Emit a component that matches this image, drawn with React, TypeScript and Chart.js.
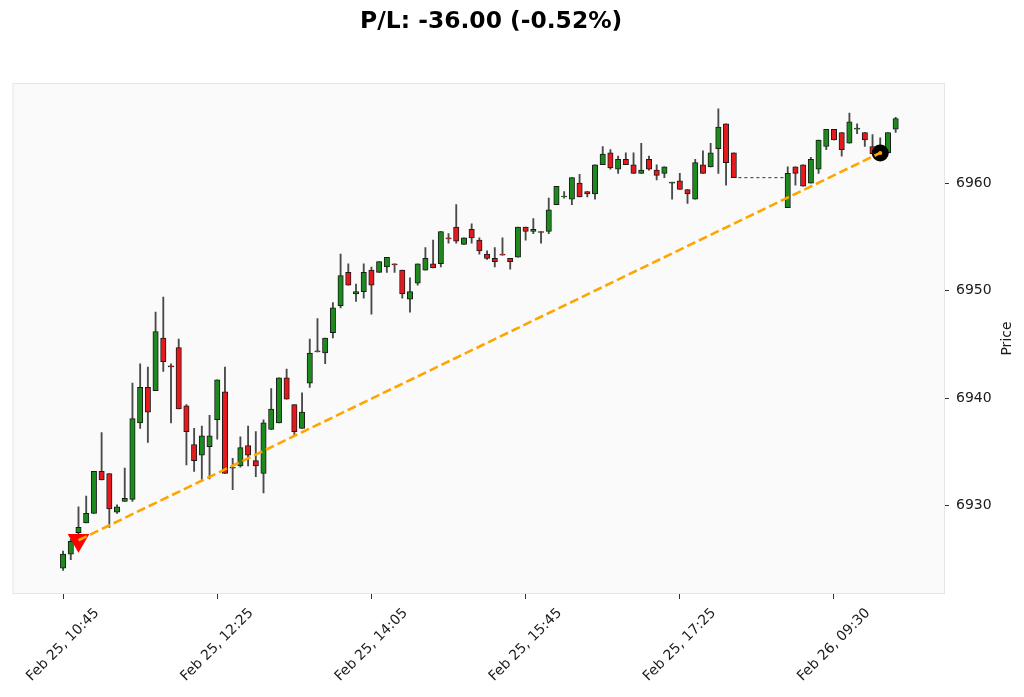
import React, { useEffect, useRef } from 'react';
import { Chart, registerables } from 'chart.js';

Chart.register(...registerables);

// ---- Data (5-minute candles, index = bar number) ----
const opens: (number | null)[] = [
  6924.2, 6925.5, 6927.5, 6928.4, 6929.3, 6933.2, 6933.0, 6929.4, 6930.4, 6930.6,
  6937.7, 6941.0, 6940.7, 6945.6, 6943.0, 6944.7, 6939.3, 6935.7, 6934.7, 6935.5,
  6938.0, 6940.6, 6933.5, 6933.7, 6935.6, 6934.2, 6933.0, 6937.1, 6937.7, 6941.9,
  6939.4, 6937.2, 6941.4, 6944.3, 6944.2, 6946.1, 6948.6, 6951.7, 6949.7, 6949.9,
  6951.9, 6951.7, 6952.2, 6952.5, 6951.9, 6949.2, 6950.7, 6951.9, 6952.5, 6952.5,
  6954.9, 6955.9, 6954.3, 6955.7, 6954.7, 6953.4, 6953.0, 6953.4, 6953.0, 6953.1,
  6955.9, 6955.5, 6955.5, 6955.5, 6958.0, 6958.7, 6958.5, 6960.0, 6959.2, 6959.0,
  6961.7, 6962.8, 6961.3, 6962.2, 6961.7, 6960.9, 6962.2, 6961.2, 6960.9, 6960.0,
  6960.2, 6959.4, 6958.5, 6961.7, 6961.5, 6963.2, 6965.5, 6962.8, null, null,
  null, null, null, null, 6957.7, 6961.5, 6961.7, 6960.0, 6961.3, 6963.4,
  6965.0, 6964.7, 6963.7, 6965.0, 6964.7, 6963.4, 6963.2, 6962.8, 6965.0,
];
const highs: (number | null)[] = [
  6925.8, 6926.9, 6929.9, 6930.9, 6933.2, 6936.8, 6933.0, 6930.1, 6933.5, 6941.4,
  6943.2, 6942.9, 6948.0, 6949.4, 6943.2, 6945.5, 6939.4, 6937.2, 6937.4, 6938.4,
  6941.7, 6942.9, 6934.4, 6936.4, 6937.4, 6936.9, 6938.0, 6940.9, 6941.9, 6942.7,
  6939.4, 6940.5, 6945.5, 6947.4, 6945.6, 6948.9, 6953.4, 6952.5, 6950.6, 6952.5,
  6952.2, 6952.7, 6953.1, 6952.5, 6951.9, 6951.2, 6952.5, 6954.0, 6954.7, 6955.5,
  6955.3, 6958.0, 6954.9, 6956.2, 6954.9, 6953.7, 6954.0, 6954.9, 6953.0, 6955.9,
  6955.9, 6956.7, 6955.5, 6958.6, 6959.7, 6959.2, 6960.5, 6960.8, 6959.2, 6961.7,
  6963.4, 6963.1, 6962.5, 6962.8, 6962.8, 6963.7, 6962.5, 6961.7, 6961.5, 6960.1,
  6960.9, 6959.4, 6962.2, 6963.0, 6963.7, 6966.9, 6965.5, 6962.8, null, null,
  null, null, null, null, 6961.5, 6961.5, 6961.7, 6962.4, 6964.0, 6965.0,
  6965.0, 6964.7, 6966.5, 6965.5, 6964.7, 6964.5, 6964.2, 6964.7, 6966.1,
];
const lows: (number | null)[] = [
  6924.0, 6925.0, 6927.1, 6928.4, 6929.3, 6932.4, 6928.0, 6929.3, 6930.4, 6930.4,
  6937.2, 6935.9, 6940.7, 6942.5, 6937.7, 6939.0, 6933.8, 6933.2, 6932.4, 6932.5,
  6936.2, 6933.0, 6931.5, 6933.6, 6933.7, 6932.7, 6931.2, 6937.1, 6937.7, 6939.9,
  6936.6, 6937.2, 6941.0, 6944.3, 6943.2, 6945.6, 6948.4, 6950.5, 6949.0, 6949.3,
  6947.8, 6951.7, 6951.7, 6951.7, 6949.3, 6948.0, 6950.5, 6951.9, 6952.1, 6952.2,
  6954.4, 6954.4, 6954.3, 6954.4, 6953.4, 6952.9, 6952.2, 6953.3, 6952.0, 6953.1,
  6954.7, 6955.3, 6954.4, 6955.3, 6958.0, 6958.6, 6958.0, 6958.7, 6958.7, 6958.5,
  6961.7, 6961.3, 6960.9, 6961.7, 6960.9, 6960.9, 6961.2, 6960.3, 6960.5, 6958.5,
  6959.4, 6958.1, 6958.5, 6960.9, 6961.5, 6960.9, 6959.8, 6960.5, null, null,
  null, null, null, null, 6957.7, 6959.8, 6959.7, 6960.0, 6960.9, 6963.1,
  6964.0, 6962.5, 6963.7, 6964.6, 6963.4, 6962.7, 6962.6, 6962.8, 6964.7,
];
const closes: (number | null)[] = [
  6925.5, 6926.7, 6928.0, 6929.3, 6933.2, 6932.4, 6929.7, 6929.9, 6930.7, 6938.1,
  6941.0, 6938.7, 6946.2, 6943.4, 6942.9, 6939.0, 6936.9, 6934.2, 6936.5, 6936.5,
  6941.7, 6933.0, 6933.6, 6935.4, 6934.7, 6933.7, 6937.7, 6939.0, 6941.9, 6939.9,
  6936.9, 6938.7, 6944.2, 6944.4, 6945.6, 6948.4, 6951.4, 6950.5, 6949.9, 6951.7,
  6950.5, 6952.7, 6953.1, 6952.4, 6949.7, 6949.9, 6952.5, 6953.0, 6952.1, 6955.5,
  6954.8, 6954.6, 6954.9, 6954.9, 6953.7, 6953.0, 6952.7, 6953.3, 6952.7, 6955.9,
  6955.5, 6955.7, 6955.4, 6957.5, 6959.7, 6958.8, 6960.5, 6958.7, 6959.0, 6961.7,
  6962.7, 6961.4, 6962.2, 6961.7, 6960.9, 6961.2, 6961.3, 6960.7, 6961.5, 6960.1,
  6959.4, 6959.0, 6961.9, 6960.9, 6962.8, 6965.2, 6961.9, 6960.5, null, null,
  null, null, null, null, 6960.9, 6960.9, 6959.7, 6962.2, 6964.0, 6965.0,
  6964.0, 6963.1, 6965.7, 6965.1, 6964.0, 6962.7, 6962.9, 6964.7, 6966.0,
];

const tickIndex = [0, 20, 40, 60, 80, 100];
const tickLabels = [
  'Feb 25, 10:45',
  'Feb 25, 12:25',
  'Feb 25, 14:05',
  'Feb 25, 15:45',
  'Feb 25, 17:25',
  'Feb 26, 09:30',
];
const priceTicks = [6930, 6940, 6950, 6960];

// trade: short entry and exit
const tradeIndex = [2, 106];
const tradePrice = [6926.8, 6962.8];
// session gap marker
const gapIndex = [87.6, 93.6];
const gapPrice = [6960.5, 6960.5];

const titleText = 'P/L: -36.00 (-0.52%)';

const UP = '#1c8a1c';
const DOWN = '#e61a1c';

export default function App() {
  const canvasRef = useRef<HTMLCanvasElement | null>(null);

  useEffect(() => {
    document.body.style.margin = '0';
    const canvas = canvasRef.current;
    if (!canvas) return;
    Chart.defaults.font.family = "'DejaVu Sans', sans-serif";

    const idx = opens.map((_, i) => i).filter((i) => opens[i] !== null);
    const bodies = idx.map((i) => ({ x: i, y: [opens[i] as number, closes[i] as number] }));
    const bodyColors = idx.map((i) => ((closes[i] as number) >= (opens[i] as number) ? UP : DOWN));
    const wicks = idx.map((i) => ({ x: i, y: [lows[i] as number, highs[i] as number] }));

    const bgPlugin = {
      id: 'bgPlugin',
      beforeDraw(chart: any) {
        const { ctx, chartArea } = chart;
        ctx.save();
        ctx.fillStyle = '#ffffff';
        ctx.fillRect(0, 0, chart.width, chart.height);
        ctx.fillStyle = '#fafafa';
        ctx.fillRect(chartArea.left, chartArea.top, chartArea.right - chartArea.left, chartArea.bottom - chartArea.top);
        ctx.strokeStyle = '#e6e6e6';
        ctx.lineWidth = 1;
        ctx.strokeRect(chartArea.left + 0.5, chartArea.top + 0.5, chartArea.right - chartArea.left - 1, chartArea.bottom - chartArea.top - 1);
        ctx.restore();
      },
    };

    const textPlugin = {
      id: 'textPlugin',
      afterDraw(chart: any) {
        const { ctx, chartArea } = chart;
        ctx.save();
        ctx.fillStyle = '#000000';
        ctx.font = "bold 23.4px 'DejaVu Sans', sans-serif";
        ctx.textAlign = 'center';
        ctx.textBaseline = 'alphabetic';
        ctx.fillText(titleText, 491.2, 28.4);
        ctx.restore();

        ctx.save();
        ctx.translate(1010.5, (chartArea.top + chartArea.bottom) / 2);
        ctx.rotate(-Math.PI / 2);
        ctx.fillStyle = '#1a1a1a';
        ctx.font = "14px 'DejaVu Sans', sans-serif";
        ctx.textAlign = 'center';
        ctx.textBaseline = 'alphabetic';
        ctx.fillText('Price', 0, 0);
        ctx.restore();
      },
    };

    const chart = new Chart(canvas, {
      type: 'bar',
      data: {
        datasets: [
          {
            type: 'line',
            label: 'trade',
            data: tradeIndex.map((x, k) => ({ x, y: tradePrice[k] })),
            borderColor: '#ffa500',
            borderWidth: 2.6,
            borderDash: [9, 4],
            pointRadius: [0, 2],
            pointBackgroundColor: '#ffa500',
            pointBorderWidth: 0,
            order: 0,
          } as any,
          {
            type: 'scatter',
            label: 'markers',
            data: tradeIndex.map((x, k) => ({ x, y: tradePrice[k] })),
            pointStyle: ['triangle', 'circle'],
            pointRotation: [180, 0],
            pointRadius: [12.5, 8.5],
            pointBackgroundColor: ['#ff0000', '#000000'],
            pointBorderColor: ['#ff0000', '#000000'],
            pointBorderWidth: 0,
            order: 1,
          } as any,
          {
            type: 'bar',
            label: 'bodies',
            data: bodies as any,
            backgroundColor: bodyColors,
            borderColor: '#1a1a1a',
            borderWidth: 1,
            borderSkipped: false,
            barThickness: 5.4,
            grouped: false,
            order: 2,
          } as any,
          {
            type: 'bar',
            label: 'wicks',
            data: wicks as any,
            backgroundColor: '#4a4a4a',
            borderWidth: 0,
            barThickness: 1.2,
            grouped: false,
            order: 3,
          } as any,
          {
            type: 'line',
            label: 'gap',
            data: gapIndex.map((x, k) => ({ x, y: gapPrice[k] })),
            borderColor: '#333333',
            borderWidth: 1,
            borderDash: [3, 3],
            pointRadius: 0,
            order: 4,
          } as any,
        ],
      },
      options: {
        animation: false,
        responsive: false,
        devicePixelRatio: 1,
        layout: { padding: { left: 8, right: 0, top: 83, bottom: 0 } },
        plugins: {
          legend: { display: false },
          tooltip: { enabled: false },
          title: { display: false },
        },
        scales: {
          x: {
            type: 'linear',
            position: 'bottom',
            min: -6.56,
            max: 114.4,
            offset: false,
            grid: { offset: false, drawOnChartArea: false, drawTicks: true, tickLength: 5, color: '#333333' },
            border: { display: false },
            ticks: {
              autoSkip: false,
              minRotation: 45,
              maxRotation: 45,
              labelOffset: 34,
              padding: 6,
              color: '#1a1a1a',
              font: { size: 14 },
              callback: (v: any) => {
                const k = tickIndex.indexOf(Number(v));
                return k >= 0 ? tickLabels[k] : '';
              },
            },
            afterBuildTicks: (s: any) => {
              s.ticks = tickIndex.map((v) => ({ value: v }));
            },
            afterFit: (s: any) => {
              s.height = 103;
              s.paddingLeft = 0;
              s.paddingRight = 0;
            },
          },
          y: {
            type: 'linear',
            position: 'right',
            min: 6921.8,
            max: 6969.3,
            grid: { offset: false, drawOnChartArea: false, drawTicks: true, tickLength: 4, color: '#333333' },
            border: { display: false },
            ticks: {
              padding: 7,
              color: '#1a1a1a',
              font: { size: 14 },
              callback: (v: any) => String(Math.round(Number(v))),
            },
            afterBuildTicks: (s: any) => {
              s.ticks = priceTicks.map((v) => ({ value: v }));
            },
            afterFit: (s: any) => {
              s.width = 79;
            },
          },
        },
      } as any,
      plugins: [bgPlugin, textPlugin],
    });

    return () => chart.destroy();
  }, []);

  return (
    <div style={{ position: 'absolute', left: 0, top: 0, width: 1024, height: 697 }}>
      <canvas ref={canvasRef} width={1024} height={697} style={{ width: 1024, height: 697 }} />
    </div>
  );
}
